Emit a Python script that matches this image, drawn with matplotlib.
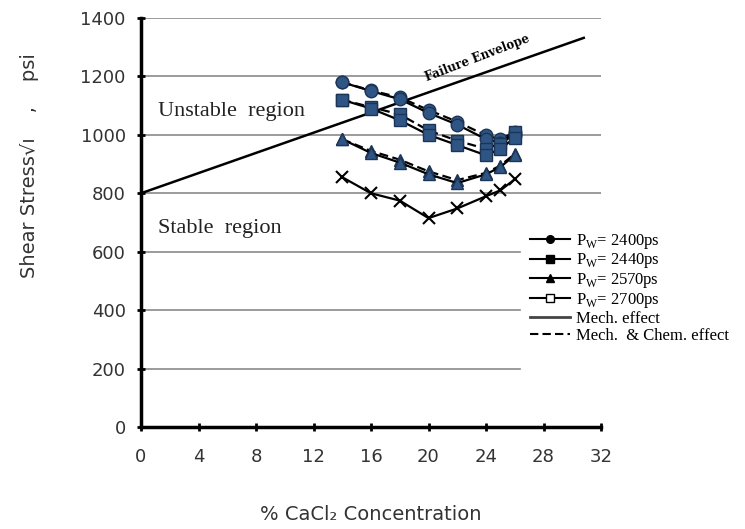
import matplotlib
matplotlib.use("Agg")
import matplotlib.pyplot as plt
from matplotlib.lines import Line2D

# CaCl2 concentration (%) for every test series
conc = [14, 16, 18, 20, 22, 24, 25, 26]

# shear stress (psi), mechanical effect only (solid) and mech. + chem. (dashed)
p2400_mech = [1180, 1150, 1122, 1075, 1035, 985, 972, 1000]
p2400_chem = [1180, 1152, 1128, 1085, 1045, 998, 985, 1010]
p2440_mech = [1120, 1090, 1050, 1000, 965, 930, 952, 990]
p2440_chem = [1120, 1095, 1070, 1015, 980, 952, 970, 1010]
p2570_mech = [985, 938, 905, 865, 835, 865, 890, 930]
p2570_chem = [985, 945, 915, 875, 845, 870, 895, 935]
p2700_mech = [855, 800, 775, 715, 748, 790, 810, 848]

# failure envelope
env_x = [0, 30.8]
env_y = [800, 1332]

yticks = [0, 200, 400, 600, 800, 1000, 1200, 1400]
xticks = [0, 4, 8, 12, 16, 20, 24, 28, 32]

legend_labels = ["P$_{\\mathrm{W}}$= 2400ps", "P$_{\\mathrm{W}}$= 2440ps",
                 "P$_{\\mathrm{W}}$= 2570ps", "P$_{\\mathrm{W}}$= 2700ps",
                 "Mech. effect", "Mech.  & Chem. effect"]

plt.rcParams['font.family'] = ['DejaVu Sans']
plt.rcParams['mathtext.fontset'] = 'custom'
plt.rcParams['mathtext.rm'] = 'Liberation Serif'

fig = plt.figure(figsize=(7.45, 5.29), dpi=100)
ax = fig.add_axes([141/745, 1 - 427/529, 460/745, 409/529])

ax.set_xlim(0, 32)
ax.set_ylim(0, 1400)
ax.set_xticks(xticks)
ax.set_yticks(yticks)

# horizontal grid; the lower lines stop where the legend sits
for y in yticks[1:]:
    right = 1.0 if y >= 800 else 0.824
    ax.axhline(y, xmax=right, color='#8a8a8a', linewidth=1.2, zorder=0)

for s in ['top', 'right']:
    ax.spines[s].set_visible(False)
for s in ['left', 'bottom']:
    ax.spines[s].set_linewidth(2.5)
ax.tick_params(direction='inout', length=6, width=2, labelsize=13,
               labelcolor='#333333')
ax.tick_params(axis='x', pad=12)
ax.tick_params(axis='y', pad=8)

blue = '#2f5584'
edge = '#1c3556'
ax.plot(env_x, env_y, color='black', lw=1.8)

ax.plot(conc, p2400_chem, color='black', lw=1.6, ls=(0, (4, 2)), marker='o',
        ms=9, mfc=blue, mec=edge)
ax.plot(conc, p2400_mech, color='black', lw=1.6, marker='o', ms=9,
        mfc=blue, mec=edge)
ax.plot(conc, p2440_chem, color='black', lw=1.6, ls=(0, (4, 2)), marker='s',
        ms=8.5, mfc=blue, mec=edge)
ax.plot(conc, p2440_mech, color='black', lw=1.6, marker='s', ms=8.5,
        mfc=blue, mec=edge)
ax.plot(conc, p2570_chem, color='black', lw=1.6, ls=(0, (4, 2)), marker='^',
        ms=8, mfc=blue, mec=edge)
ax.plot(conc, p2570_mech, color='black', lw=1.6, marker='^', ms=8,
        mfc=blue, mec=edge)
ax.plot(conc, p2700_mech, color='black', lw=1.6, marker='x', ms=8.5, mew=1.5)

ax.text(1.2, 1080, "Unstable  region", family='Liberation Serif', fontsize=16,
        color='#222222', va='center')
ax.text(1.2, 680, "Stable  region", family='Liberation Serif', fontsize=16,
        color='#222222', va='center')
ax.text(23.4, 1262, "Failure Envelope", fontsize=8.5, fontweight='bold',
        rotation=21, ha='center', va='center', family='DejaVu Serif')

ax.set_ylabel("Shear Stress\u221a\u0131    ,    psi", fontsize=14, color='#333333')
ax.yaxis.set_label_coords(-0.222, 0.64)
ax.set_xlabel("% CaCl\u2082 Concentration", fontsize=14, color='#333333')
ax.xaxis.set_label_coords(0.5, -0.19)

handles = [
    Line2D([], [], color='black', lw=1.5, marker='o', ms=5.5),
    Line2D([], [], color='black', lw=1.5, marker='s', ms=5.5),
    Line2D([], [], color='black', lw=1.5, marker='^', ms=5.5),
    Line2D([], [], color='black', lw=1.5, marker='s', ms=5.5, mfc='white'),
    Line2D([], [], color='#444444', lw=2),
    Line2D([], [], color='black', lw=1.5, ls=(0, (4, 2))),
]
fig.legend(handles, legend_labels, loc='upper left',
           bbox_to_anchor=(518/745, 1 - 220/529),
           prop={'family': 'Liberation Serif', 'size': 12},
           handlelength=2.4, handletextpad=0.4, labelspacing=0.05,
           borderpad=0.2, frameon=False)

fig.savefig("out.png", dpi=100)
